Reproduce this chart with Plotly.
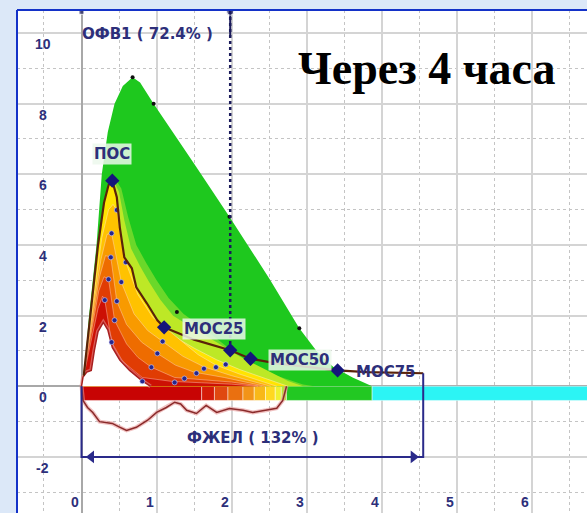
import plotly.graph_objects as go

# --- flow-volume data (volume L, flow L/s) ---
pred_x = [0.02, 0.06, 0.10, 0.20, 0.27, 0.35, 0.44, 0.55, 0.68, 0.78, 0.96, 1.50, 1.97, 2.50, 2.90, 3.13, 3.35, 3.61, 3.87]
pred_y = [0.00, 1.00, 2.00, 4.00, 6.00, 7.20, 8.00, 8.50, 8.75, 8.60, 8.00, 6.30, 4.80, 3.05, 1.64, 1.00, 0.55, 0.25, 0.00]
pred_dot_x = [0.68, 0.96, 1.97, 2.90, 1.27]
pred_dot_y = [8.75, 8.00, 4.80, 1.64, 2.10]

best_x = [0.03, 0.12, 0.22, 0.30, 0.36, 0.41, 0.47, 0.51, 0.57, 0.67, 0.73, 0.87, 1.01, 1.10, 1.50, 1.98, 2.25, 2.60, 3.00, 3.41, 3.80, 4.20, 4.55]
best_y = [0.30, 2.00, 4.00, 5.20, 5.70, 5.82, 5.35, 4.50, 3.65, 3.34, 2.80, 2.35, 1.87, 1.67, 1.32, 1.02, 0.78, 0.65, 0.55, 0.45, 0.40, 0.38, 0.37]

halo2_x = [0.02, 0.12, 0.22, 0.30, 0.36, 0.41, 0.53, 0.62, 0.73, 0.86, 1.00, 1.16, 1.36, 1.62, 1.92, 2.25, 2.60, 2.95, 3.10]
halo2_y = [0.00, 2.00, 4.00, 5.20, 5.80, 6.00, 5.60, 4.80, 4.00, 3.50, 3.00, 2.50, 2.05, 1.65, 1.15, 0.65, 0.30, 0.05, 0.00]
halo_x = [0.02, 0.12, 0.22, 0.30, 0.36, 0.41, 0.50, 0.57, 0.66, 0.78, 0.90, 1.05, 1.22, 1.50, 1.80, 2.10, 2.45, 2.75, 2.95]
halo_y = [0.00, 2.00, 4.00, 5.20, 5.75, 5.90, 5.50, 4.70, 3.90, 3.40, 2.95, 2.45, 2.00, 1.62, 1.25, 0.85, 0.48, 0.15, 0.00]
yel_x = [0.02, 0.12, 0.22, 0.30, 0.36, 0.41, 0.47, 0.51, 0.57, 0.67, 0.73, 0.87, 1.00, 1.20, 1.50, 1.80, 2.10, 2.45, 2.75]
yel_y = [0.00, 2.00, 4.00, 5.20, 5.70, 5.82, 5.35, 4.50, 3.65, 3.34, 2.80, 2.35, 1.85, 1.45, 1.08, 0.75, 0.48, 0.22, 0.00]
c5_x = [0.00, 0.07, 0.17, 0.27, 0.36, 0.42, 0.47, 0.52, 0.59, 0.75, 0.95, 1.27, 1.55, 1.79, 2.10, 2.60]
c5_y = [0.00, 1.10, 2.70, 4.20, 5.00, 5.15, 4.99, 4.30, 3.51, 2.60, 1.95, 1.40, 0.90, 0.60, 0.35, 0.00]
c4_x = [0.00, 0.06, 0.16, 0.26, 0.34, 0.40, 0.46, 0.53, 0.70, 0.88, 1.08, 1.35, 1.63, 2.00, 2.52]
c4_y = [0.00, 0.90, 2.30, 3.60, 4.30, 4.33, 3.70, 2.95, 2.05, 1.58, 1.27, 0.85, 0.55, 0.30, 0.00]
c3_x = [0.00, 0.06, 0.15, 0.24, 0.32, 0.39, 0.47, 0.60, 0.80, 1.01, 1.25, 1.50, 1.90, 2.45]
c3_y = [0.00, 0.80, 2.00, 3.10, 3.70, 3.65, 2.41, 1.75, 1.25, 0.93, 0.60, 0.40, 0.25, 0.00]
c2_x = [0.00, 0.06, 0.14, 0.23, 0.30, 0.36, 0.44, 0.60, 0.75, 0.93, 1.24, 1.60, 2.00, 2.40]
c2_y = [0.00, 0.70, 1.70, 2.70, 3.10, 3.03, 1.87, 1.20, 0.82, 0.54, 0.25, 0.18, 0.12, 0.00]
c1_x = [0.00, 0.06, 0.14, 0.22, 0.28, 0.31, 0.40, 0.55, 0.81, 1.20, 1.60, 2.00, 2.35]
c1_y = [0.00, 0.60, 1.40, 2.20, 2.55, 2.44, 1.25, 0.70, 0.25, 0.14, 0.10, 0.06, 0.00]
low_x = [0.00, 0.02, 0.07, 0.13, 0.17, 0.22, 0.29, 0.35, 0.41, 0.51, 0.64, 0.80, 0.92]
low_y = [0.00, 0.26, 0.40, 0.45, 1.00, 1.55, 1.81, 1.60, 1.10, 0.74, 0.45, 0.17, 0.00]

attempt_dot_x = [0.31, 0.40, 0.81, 0.36, 0.44, 0.93, 1.24, 0.39, 0.47, 1.01, 1.37, 0.40, 0.53, 1.08, 1.53, 1.63, 0.47, 0.59, 1.79, 1.92]
attempt_dot_y = [2.44, 1.25, 0.14, 3.03, 1.87, 0.54, 0.11, 3.65, 2.41, 0.93, 0.22, 4.33, 2.95, 1.27, 0.37, 0.50, 4.99, 3.51, 0.54, 0.62]

insp_x = [0.00, 0.02, 0.08, 0.15, 0.24, 0.33, 0.41, 0.50, 0.60, 0.73, 0.88, 1.00, 1.13, 1.24, 1.32, 1.40, 1.53, 1.66, 1.80, 1.97, 2.15, 2.28, 2.46, 2.60, 2.68, 2.73]
insp_y = [0.00, -0.40, -0.60, -0.74, -1.00, -1.02, -1.05, -1.15, -1.25, -1.16, -0.96, -0.74, -0.60, -0.45, -0.50, -0.68, -0.77, -0.54, -0.74, -0.63, -0.68, -0.74, -0.68, -0.62, -0.40, 0.00]

# volume bar under the zero line
bar_edges = [0, 1.60, 1.77, 1.95, 2.15, 2.30, 2.45, 2.58, 2.66, 2.73, 3.87, 6.80]
bar_colors = ["#c80404", "#d41a08", "#e04810", "#ea7010", "#f29418", "#f8b818", "#ffd820", "#f0f030", "#b8e830", "#22c822", "#2cf4f4"]
bar_depth = 0.4

# key points
key_names = ["ПОС", "МОС25", "ОФВ1", "МОС50", "МОС75"]
key_x = [0.41, 1.10, 1.98, 2.25, 3.41]
key_y = [5.82, 1.67, 1.02, 0.78, 0.45]
fev1_x = 1.98
fvc_x = 4.55
fvc_top = 0.37
fvc_level = -2.0

x_tick_vals = [0, 1, 2, 3, 4, 5, 6]
y_tick_vals = [10, 8, 6, 4, 2, 0, -2]

NAVY = "#2d2f7a"
GREEN = "#1ec81e"

fig = go.Figure()

def poly(x, y, fill, line="rgba(0,0,0,0)", width=0):
    fig.add_trace(go.Scatter(x=x, y=y, mode="lines", fill="toself", fillcolor=fill,
                             line=dict(color=line, width=width), hoverinfo="skip"))

# predicted area and the colour stack of the attempts
poly(pred_x, pred_y, GREEN)
poly(halo2_x, halo2_y, "#6ad82a")
poly(halo_x, halo_y, "#bde826")
poly(yel_x, yel_y, "#ffe400", "rgba(255,240,210,0.6)", 0.8)
poly(c5_x, c5_y, "#ffc200", "rgba(255,230,200,0.6)", 0.8)
poly(c4_x, c4_y, "#f89a00", "rgba(255,220,190,0.6)", 0.8)
poly(c3_x, c3_y, "#ee6c00", "rgba(255,210,180,0.6)", 0.8)
poly(c2_x, c2_y, "#e03c04", "rgba(255,200,180,0.6)", 0.8)
poly(c1_x, c1_y, "#cc1004", "rgba(255,190,180,0.6)", 0.8)
fig.add_trace(go.Scatter(x=low_x, y=low_y, mode="lines", line=dict(color="rgba(230,140,140,0.6)", width=4),
                         hoverinfo="skip"))
poly(low_x, low_y, "white", "#a82020", 1.5)

# bar under zero
centers = [(a + b) / 2 for a, b in zip(bar_edges[:-1], bar_edges[1:])]
widths = [b - a for a, b in zip(bar_edges[:-1], bar_edges[1:])]
fig.add_trace(go.Bar(x=centers, y=[bar_depth] * len(centers), base=-bar_depth, width=widths,
                     marker=dict(color=bar_colors, line=dict(color="rgba(255,255,255,0.45)", width=1)),
                     hoverinfo="skip"))

# inspiratory loop
fig.add_trace(go.Scatter(x=insp_x, y=insp_y, mode="lines", line=dict(color="rgba(230,150,150,0.6)", width=4),
                         hoverinfo="skip"))
fig.add_trace(go.Scatter(x=insp_x, y=insp_y, mode="lines", line=dict(color="#8a2a2a", width=1.5),
                         hoverinfo="skip"))

# dots
fig.add_trace(go.Scatter(x=attempt_dot_x, y=attempt_dot_y, mode="markers",
                         marker=dict(color="#26268c", size=5, line=dict(color="rgba(210,210,255,0.6)", width=1)),
                         hoverinfo="skip"))
fig.add_trace(go.Scatter(x=pred_dot_x, y=pred_dot_y, mode="markers",
                         marker=dict(color="#101010", size=4), hoverinfo="skip"))

# best curve
fig.add_trace(go.Scatter(x=best_x, y=best_y, mode="lines", line=dict(color="#5a2308", width=2.2),
                         hoverinfo="skip"))

# ОФВ1 marker line
fig.add_trace(go.Scatter(x=[fev1_x, fev1_x], y=[10.62, key_y[2]], mode="lines",
                         line=dict(color="#1a1a5a", width=2.5, dash="dot"), hoverinfo="skip"))
fig.add_trace(go.Scatter(x=[fev1_x, fev1_x], y=[10.62, 9.9], mode="lines",
                         line=dict(color="#1a1a5a", width=2), hoverinfo="skip"))
fig.add_trace(go.Scatter(x=[0, fev1_x], y=[10.6, 10.6], mode="markers",
                         marker=dict(color="#1a1a5a", size=[5, 7], symbol=["square", "circle"]),
                         hoverinfo="skip"))

# ФЖЕЛ bracket
fig.add_trace(go.Scatter(x=[0, 0, fvc_x, fvc_x], y=[0, fvc_level, fvc_level, fvc_top], mode="lines",
                         line=dict(color="#2a2a8a", width=2), hoverinfo="skip"))
fig.add_trace(go.Scatter(x=[0.13, fvc_x - 0.13], y=[fvc_level, fvc_level], mode="markers",
                         marker=dict(color="#2a2a8a", size=11, symbol=["triangle-left", "triangle-right"]),
                         hoverinfo="skip"))

# key point markers
fig.add_trace(go.Scatter(x=key_x, y=key_y, mode="markers",
                         marker=dict(color="#15157a", size=11, symbol="diamond"), hoverinfo="skip"))

label_font = dict(family="DejaVu Sans", size=15, color=NAVY, weight="bold")
box = "rgba(236,248,236,0.85)"
fig.add_annotation(x=0.40, y=6.57, text="ПОС", showarrow=False, font=label_font, bgcolor=box, borderpad=1)
fig.add_annotation(x=1.77, y=1.61, text="МОС25", showarrow=False, font=label_font, bgcolor=box, borderpad=1)
fig.add_annotation(x=2.91, y=0.74, text="МОС50", showarrow=False, font=label_font, bgcolor=box, borderpad=1)
fig.add_annotation(x=4.05, y=0.40, text="МОС75", showarrow=False, font=label_font)
fig.add_annotation(x=0.88, y=9.97, text="ОФВ1 ( 72.4% )", showarrow=False, font=label_font)
fig.add_annotation(x=2.28, y=-1.47, text="ФЖЕЛ ( 132% )", showarrow=False, font=label_font)

fig.add_annotation(x=4.6, y=9.0, text="<b>Через 4 часа</b>", showarrow=False,
                   font=dict(family="Liberation Serif", size=46, color="black"))

tick_font = dict(family="Liberation Sans", size=14, color=NAVY, weight="bold")
for v in x_tick_vals:
    fig.add_annotation(x=v, y=-3.28, text=str(v), showarrow=False, xanchor="right", xshift=-1, font=tick_font)
for v in y_tick_vals:
    fig.add_annotation(x=-0.513, y=v, yshift=-11, text=str(v), showarrow=False, font=tick_font)

# frame (left + top)
fig.add_shape(type="line", xref="paper", yref="paper", x0=0, x1=0, y0=0, y1=1, line=dict(color="#1432c8", width=2))
fig.add_shape(type="line", xref="paper", yref="paper", x0=0, x1=1, y0=1, y1=1, line=dict(color="#1432c8", width=2))

fig.update_layout(
    width=587, height=513,
    margin=dict(l=17, r=0, t=10, b=0),
    paper_bgcolor="#dce8f8",
    plot_bgcolor="white",
    showlegend=False,
    barmode="overlay",
    xaxis=dict(range=[-0.859, 6.731], showticklabels=False, ticks="", dtick=1, tick0=0,
               showgrid=True, gridcolor="#d4d4d4", gridwidth=1.5,
               minor=dict(dtick=0.5, showgrid=True, gridcolor="#c4c4c4", griddash="dot", gridwidth=1),
               zeroline=True, zerolinecolor="#a8a8a8", zerolinewidth=2, fixedrange=True),
    yaxis=dict(range=[-3.586, 10.651], showticklabels=False, ticks="", dtick=2, tick0=0,
               showgrid=True, gridcolor="#d4d4d4", gridwidth=1.5,
               minor=dict(dtick=1, showgrid=True, gridcolor="#c4c4c4", griddash="dot", gridwidth=1),
               zeroline=True, zerolinecolor="#a8a8a8", zerolinewidth=2, fixedrange=True),
)

# page body has a default 8px margin; drop it so the figure fills the window
fig.write_html("out.html", config={"displayModeBar": False},
               post_script="document.body.style.margin='0';document.body.style.overflow='hidden';")
